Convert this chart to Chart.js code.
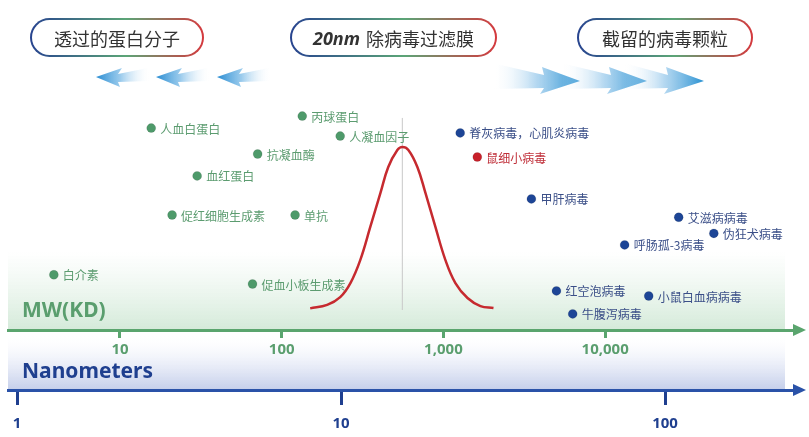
<!DOCTYPE html>
<html>
<head>
<meta charset="utf-8">
<script src="https://cdn.jsdelivr.net/npm/chart.js@4.4.1/dist/chart.umd.min.js"></script>
<style>
  body { margin: 0; background: #fff; }
  #wrap { position: relative; width: 809px; height: 437px; }
  #chart { position: absolute; left: 0; top: 0; }
  .pill {
    position: absolute; top: 18px; height: 39px; box-sizing: border-box;
    border: 2px solid transparent; border-radius: 20px;
    background: linear-gradient(#fff, #fff) padding-box,
                linear-gradient(90deg, #27438f, #5ba577 55%, #d5383d) border-box;
    display: flex; align-items: center; justify-content: center;
    font-family: 'Noto Sans CJK SC', sans-serif; font-size: 18px; color: #333;
  }
  .pill b { font-family: 'Noto Sans', sans-serif; font-style: italic; margin-right: 6px; }
</style>
</head>
<body>
<div id="wrap">
  <canvas id="chart" width="809" height="437"></canvas>
  <div class="pill" style="left:30px;width:174px;">透过的蛋白分子</div>
  <div class="pill" style="left:290px;width:207px;"><b>20nm</b>除病毒过滤膜</div>
  <div class="pill" style="left:577px;width:176px;">截留的病毒颗粒</div>
</div>
<script>
// axis ticks
const mwTicks = [10, 100, 1000, 10000];
const nmTicks = [1, 10, 100];

// proteins that pass the membrane (MW in kD, height is just the row on the picture)
const proteinNames = ['人血白蛋白', '丙球蛋白', '人凝血因子', '抗凝血酶', '血红蛋白', '促红细胞生成素', '单抗', '白介素', '促血小板生成素'];
const proteinMW = [15.6, 134, 230, 71, 30, 21, 121, 3.9, 66];
const proteinLevel = [87.8, 93, 84.3, 76.5, 67, 50, 50, 24, 20];

// retained viruses
const virusNames = ['脊灰病毒，心肌炎病毒', '甲肝病毒', '艾滋病病毒', '伪狂犬病毒', '呼肠孤-3病毒', '红空泡病毒', '小鼠白血病病毒', '牛腹泻病毒'];
const virusMW = [1270, 3500, 28500, 47000, 13200, 5000, 18600, 6300];
const virusLevel = [85.7, 57, 49, 42, 37, 17, 14.8, 7];

const mvmNames = ['鼠细小病毒'];
const mvmMW = [1620];
const mvmLevel = [75.2];

// membrane cut-off curve
const curveMW = [150, 191, 230, 266, 306, 353, 408, 456, 519, 557, 607, 690, 774, 892, 1029, 1186, 1409, 1694, 2040];
const curveLevel = [9.4, 10.9, 14.3, 20.4, 30.4, 44.8, 59.6, 70.9, 78.3, 79.6, 78.3, 70.9, 59.6, 44.8, 30.4, 20.4, 13.9, 10.4, 9.6];
const peakMW = [557, 557];
const peakLevel = [8.7, 92.2];

const green = '#5a9e6e';
const blue = '#1f3f8f';
const cjk = '"Noto Sans CJK SC", sans-serif';

const toPoints = (xs, ys) => xs.map((x, i) => ({ x: x, y: ys[i] }));

// names next to the dots
const labelPlugin = {
  id: 'pointLabels',
  afterDatasetsDraw(chart) {
    const ctx = chart.ctx;
    chart.data.datasets.forEach((ds, i) => {
      if (!ds.names) return;
      const meta = chart.getDatasetMeta(i);
      ctx.save();
      ctx.font = '12px ' + cjk;
      ctx.fillStyle = ds.textColor;
      ctx.textBaseline = 'middle';
      meta.data.forEach((pt, j) => ctx.fillText(ds.names[j], pt.x + 9, pt.y + 1));
      ctx.restore();
    });
  }
};

function drawArrow(ctx, pts, x0, x1, stops) {
  const g = ctx.createLinearGradient(x0, 0, x1, 0);
  stops.forEach(s => g.addColorStop(s[0], s[1]));
  ctx.fillStyle = g;
  ctx.beginPath();
  pts.forEach((p, i) => i ? ctx.lineTo(p[0], p[1]) : ctx.moveTo(p[0], p[1]));
  ctx.closePath();
  ctx.fill();
}

const decorPlugin = {
  id: 'decor',
  beforeDraw(chart) {
    const { ctx, chartArea } = chart;
    const mw = chart.scales.x, nm = chart.scales.xNm;
    const w = chartArea.right - chartArea.left - 10;
    ctx.save();
    // green band above the MW axis
    let g = ctx.createLinearGradient(0, mw.top - 78, 0, mw.top);
    g.addColorStop(0, 'rgba(225,241,229,0)');
    g.addColorStop(1, 'rgb(212,234,217)');
    ctx.fillStyle = g;
    ctx.fillRect(chartArea.left, mw.top - 78, w, 78);
    // blue band above the nm axis
    g = ctx.createLinearGradient(0, mw.top + 4, 0, nm.top);
    g.addColorStop(0, 'rgba(255,255,255,0)');
    g.addColorStop(0.4, 'rgba(238,241,250,0.7)');
    g.addColorStop(1, 'rgb(196,206,234)');
    ctx.fillStyle = g;
    ctx.fillRect(chartArea.left, mw.top + 4, w, nm.top - mw.top - 4);

    // left arrows (proteins pass)
    [96, 156, 217].forEach(x => {
      const y = 77;
      drawArrow(ctx, [[x, y], [x + 26, y - 9], [x + 22, y - 3], [x + 52, y - 9], [x + 54, y + 4], [x + 22, y + 5], [x + 24, y + 10]],
        x, x + 54, [[0, 'rgba(40,140,210,1)'], [0.45, 'rgba(120,185,230,0.75)'], [1, 'rgba(255,255,255,0)']]);
    });
    // right arrows (viruses retained)
    [[580, 88], [647, 86], [704, 80]].forEach(a => {
      const x = a[0], len = a[1], y = 81;
      drawArrow(ctx, [[x, y], [x - 40, y + 13], [x - 36, y + 7], [x - len, y + 8], [x - len, y - 18], [x - 36, y - 6], [x - 38, y - 14]],
        x - len, x, [[0, 'rgba(255,255,255,0)'], [0.5, 'rgba(150,200,235,0.7)'], [1, 'rgba(40,145,210,1)']]);
    });
    ctx.restore();
  },
  afterDraw(chart) {
    const { ctx, chartArea } = chart;
    const mw = chart.scales.x, nm = chart.scales.xNm;
    ctx.save();
    // arrow heads at the ends of the axes
    [[mw.top, '#5aa56e'], [nm.top, '#2a52a8']].forEach(a => {
      ctx.fillStyle = a[1];
      ctx.beginPath();
      ctx.moveTo(chartArea.right - 2, a[0] - 6);
      ctx.lineTo(chartArea.right + 11, a[0]);
      ctx.lineTo(chartArea.right - 2, a[0] + 6);
      ctx.closePath();
      ctx.fill();
    });
    // axis names
    ctx.textBaseline = 'middle';
    ctx.font = 'bold 21px "Noto Sans", sans-serif';
    ctx.fillStyle = green;
    ctx.fillText('MW(KD)', 22, mw.top - 19);
    ctx.fillStyle = blue;
    ctx.fillText('Nanometers', 22, nm.top - 18);
    ctx.restore();
  }
};

new Chart(document.getElementById('chart'), {
  type: 'scatter',
  data: {
    datasets: [
      {
        data: toPoints(proteinMW, proteinLevel),
        names: proteinNames,
        textColor: '#5c9c70',
        backgroundColor: '#4e9a6a',
        pointRadius: 4.5,
      },
      {
        data: toPoints(virusMW, virusLevel),
        names: virusNames,
        textColor: '#3b4f88',
        backgroundColor: '#1d4596',
        pointRadius: 4.5,
      },
      {
        data: toPoints(mvmMW, mvmLevel),
        names: mvmNames,
        textColor: '#c0303a',
        backgroundColor: '#c8202a',
        pointRadius: 4.5,
      },
      {
        data: toPoints(curveMW, curveLevel),
        showLine: true,
        borderColor: '#c62a2f',
        borderWidth: 2.5,
        pointRadius: 0,
        tension: 0.4,
      },
      {
        data: toPoints(peakMW, peakLevel),
        showLine: true,
        borderColor: '#c8c8c8',
        borderWidth: 1,
        pointRadius: 0,
      },
    ],
  },
  options: {
    responsive: false,
    animation: false,
    devicePixelRatio: 1,
    layout: { padding: { top: 100, left: 8, right: 14, bottom: 0 } },
    plugins: { legend: { display: false }, tooltip: { enabled: false } },
    scales: {
      y: { display: false, min: 0, max: 100 },
      x: {
        type: 'logarithmic',
        position: 'bottom',
        weight: 0,
        min: 2.03,
        max: 149300,
        border: { color: '#5aa56e', width: 3 },
        grid: { drawOnChartArea: false, color: '#5aa56e', lineWidth: 3, tickLength: 8 },
        ticks: {
          color: green,
          font: { family: '"Noto Sans", sans-serif', size: 15, weight: 'bold' },
          padding: 3,
          maxRotation: 0,
          autoSkip: false,
          callback: v => v.toLocaleString('en-US'),
        },
        afterBuildTicks: s => { s.ticks = mwTicks.map(v => ({ value: v })); },
        afterFit: s => { s.height = 60; },
      },
      xNm: {
        type: 'logarithmic',
        axis: 'x',
        position: 'bottom',
        weight: 1,
        min: 0.938,
        max: 251.9,
        border: { color: '#2a52a8', width: 3 },
        grid: { drawOnChartArea: false, color: blue, lineWidth: 3, tickLength: 15 },
        ticks: {
          color: blue,
          font: { family: '"Noto Sans", sans-serif', size: 15, weight: 'bold' },
          padding: 10,
          maxRotation: 0,
          autoSkip: false,
          callback: v => v.toLocaleString('en-US'),
        },
        afterBuildTicks: s => { s.ticks = nmTicks.map(v => ({ value: v })); },
        afterFit: s => { s.height = 47; },
      },
    },
  },
  plugins: [decorPlugin, labelPlugin],
});
</script>
</body>
</html>
